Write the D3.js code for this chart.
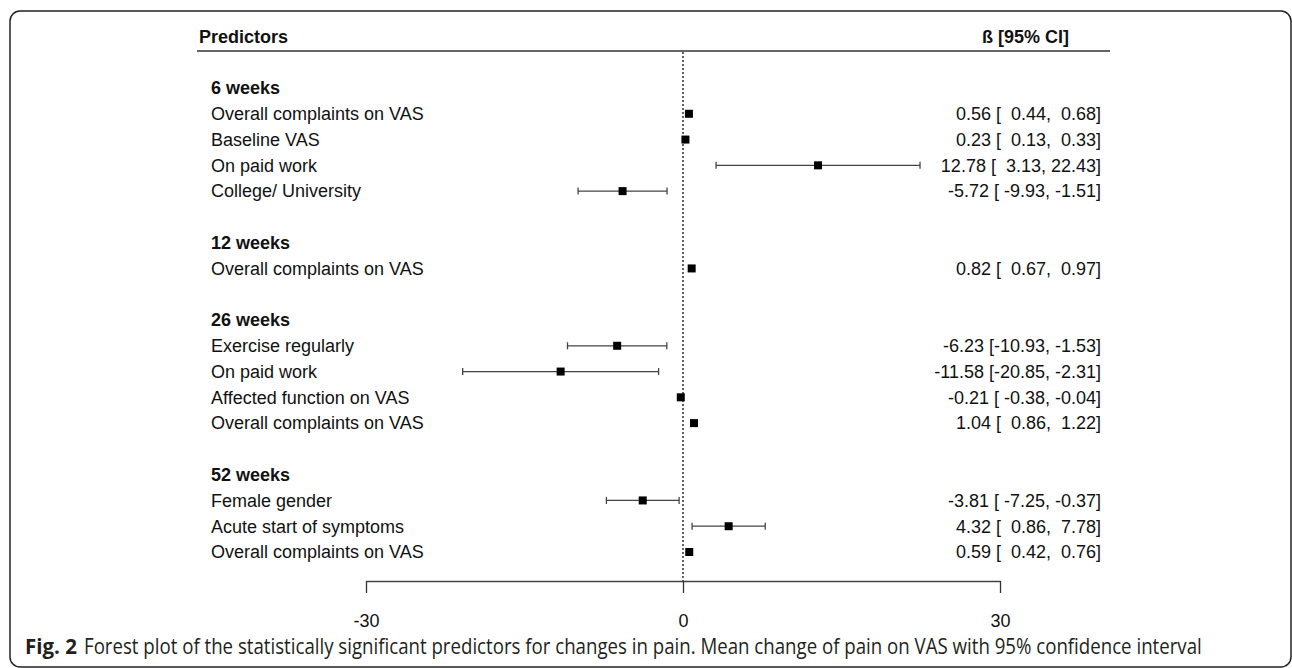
<!DOCTYPE html>
<html>
<head>
<meta charset="utf-8">
<script src="https://cdn.jsdelivr.net/npm/d3@7"></script>
<style>
  html, body { margin: 0; padding: 0; background: #fff; }
  svg { display: block; }
</style>
</head>
<body>
<svg id="chart" width="1292" height="668"></svg>
<script>
// timepoints and the predictors listed under each one
const groups = ['6 weeks', '12 weeks', '26 weeks', '52 weeks'];
const predictors = [
  ['Overall complaints on VAS', 'Baseline VAS', 'On paid work', 'College/ University'],
  ['Overall complaints on VAS'],
  ['Exercise regularly', 'On paid work', 'Affected function on VAS', 'Overall complaints on VAS'],
  ['Female gender', 'Acute start of symptoms', 'Overall complaints on VAS']
];
const beta = [
  [0.56, 0.23, 12.78, -5.72],
  [0.82],
  [-6.23, -11.58, -0.21, 1.04],
  [-3.81, 4.32, 0.59]
];
const lower = [
  [0.44, 0.13, 3.13, -9.93],
  [0.67],
  [-10.93, -20.85, -0.38, 0.86],
  [-7.25, 0.86, 0.42]
];
const upper = [
  [0.68, 0.33, 22.43, -1.51],
  [0.97],
  [-1.53, -2.31, -0.04, 1.22],
  [-0.37, 7.78, 0.76]
];
const xTicks = [-30, 0, 30];

const captionLead = 'Fig. 2';
const caption = 'Forest plot of the statistically significant predictors for changes in pain. Mean change of pain on VAS with 95% confidence interval';

// build the rows: a heading, its predictors, then a blank spacer row
const rows = [];
groups.forEach((g, gi) => {
  rows.push({ type: 'group', label: g });
  predictors[gi].forEach((p, i) => {
    rows.push({ type: 'item', label: p, b: beta[gi][i], lo: lower[gi][i], hi: upper[gi][i] });
  });
  if (gi < groups.length - 1) rows.push({ type: 'blank' });
});
rows.forEach((r, i) => r.idx = i);

const svg = d3.select('#chart');
const font = '"Liberation Sans", Arial, sans-serif';
const fs = 18;

// outer frame, open past the bottom edge
svg.append('rect')
  .attr('x', 10).attr('y', 11)
  .attr('width', 1281).attr('height', 656)
  .attr('rx', 10)
  .attr('fill', 'none')
  .attr('stroke', '#222')
  .attr('stroke-width', 1.5);

const x = d3.scaleLinear().domain([-30, 30]).range([366, 1000]);
const y = d3.scaleLinear().domain([0, rows.length - 1]).range([88, 552]);

const fmt = v => v.toFixed(2);
const pad = (v, w) => fmt(v).padStart(w, ' ');

// header
svg.append('text')
  .attr('x', 199).attr('y', 43)
  .attr('font-family', font).attr('font-size', fs).attr('font-weight', 'bold')
  .attr('fill', '#111')
  .text('Predictors');

svg.append('text')
  .attr('x', 1069).attr('y', 43)
  .attr('text-anchor', 'end')
  .attr('font-family', font).attr('font-size', fs).attr('font-weight', 'bold')
  .attr('fill', '#111')
  .text('ß [95% CI]');

svg.append('line')
  .attr('x1', 197).attr('x2', 1110)
  .attr('y1', 51).attr('y2', 51)
  .attr('stroke', '#333').attr('stroke-width', 1.3);

// zero reference line
svg.append('line')
  .attr('x1', x(0)).attr('x2', x(0))
  .attr('y1', 52).attr('y2', 581)
  .attr('stroke', '#111').attr('stroke-width', 1.3)
  .attr('stroke-dasharray', '2,2');

// row labels
svg.selectAll('text.row')
  .data(rows.filter(r => r.type !== 'blank'))
  .join('text')
  .attr('class', 'row')
  .attr('x', 211)
  .attr('y', d => y(d.idx))
  .attr('dy', '0.35em')
  .attr('font-family', font).attr('font-size', fs)
  .attr('font-weight', d => d.type === 'group' ? 'bold' : 'normal')
  .attr('fill', '#111')
  .text(d => d.label);

const items = rows.filter(r => r.type === 'item');

// CI values column
svg.selectAll('text.ci')
  .data(items)
  .join('text')
  .attr('class', 'ci')
  .attr('x', 1101)
  .attr('y', d => y(d.idx))
  .attr('dy', '0.35em')
  .attr('text-anchor', 'end')
  .attr('font-family', font).attr('font-size', fs)
  .attr('fill', '#111')
  .style('white-space', 'pre')
  .text(d => fmt(d.b) + ' [' + pad(d.lo, 6) + ',' + pad(d.hi, 6) + ']');

// whiskers
const ci = svg.append('g').attr('stroke', '#444').attr('stroke-width', 1.3);
items.filter(d => x(d.hi) - x(d.lo) > 8).forEach(d => {
  const cy = y(d.idx);
  ci.append('line').attr('x1', x(d.lo)).attr('x2', x(d.hi)).attr('y1', cy).attr('y2', cy);
  ci.append('line').attr('x1', x(d.lo)).attr('x2', x(d.lo)).attr('y1', cy - 3.5).attr('y2', cy + 3.5);
  ci.append('line').attr('x1', x(d.hi)).attr('x2', x(d.hi)).attr('y1', cy - 3.5).attr('y2', cy + 3.5);
});

// point estimates
svg.selectAll('rect.box')
  .data(items)
  .join('rect')
  .attr('class', 'box')
  .attr('x', d => x(d.b) - 4)
  .attr('y', d => y(d.idx) - 4)
  .attr('width', 8).attr('height', 8)
  .attr('fill', '#000');

// x axis
const axis = svg.append('g')
  .attr('transform', 'translate(0,581)')
  .call(d3.axisBottom(x).tickValues(xTicks).tickSize(12).tickSizeOuter(0).tickPadding(21).tickFormat(d3.format('d')));
axis.select('.domain').attr('stroke', '#444').attr('stroke-width', 1.3);
axis.selectAll('.tick line').attr('stroke', '#333').attr('stroke-width', 1.3);
axis.selectAll('.tick text')
  .attr('font-family', font).attr('font-size', fs).attr('fill', '#111');
axis.selectAll('.tick text').text(d => d < 0 ? '-' + Math.abs(d) : d);

// caption: condensed look, squeezed horizontally to the reference width
function squeezed(str, x0, width, bold) {
  const g = svg.append('g');
  const t = g.append('text')
    .attr('x', 0).attr('y', 0)
    .attr('font-family', '"Open Sans", sans-serif')
    .attr('font-size', 21)
    .attr('font-weight', bold ? 'bold' : 'normal')
    .attr('fill', '#231f20')
    .text(str);
  const k = width / t.node().getComputedTextLength();
  g.attr('transform', `translate(${x0},654) scale(${k},1)`);
}
squeezed(captionLead, 25, 52, true);
squeezed(caption, 84, 1118, false);
</script>
</body>
</html>
